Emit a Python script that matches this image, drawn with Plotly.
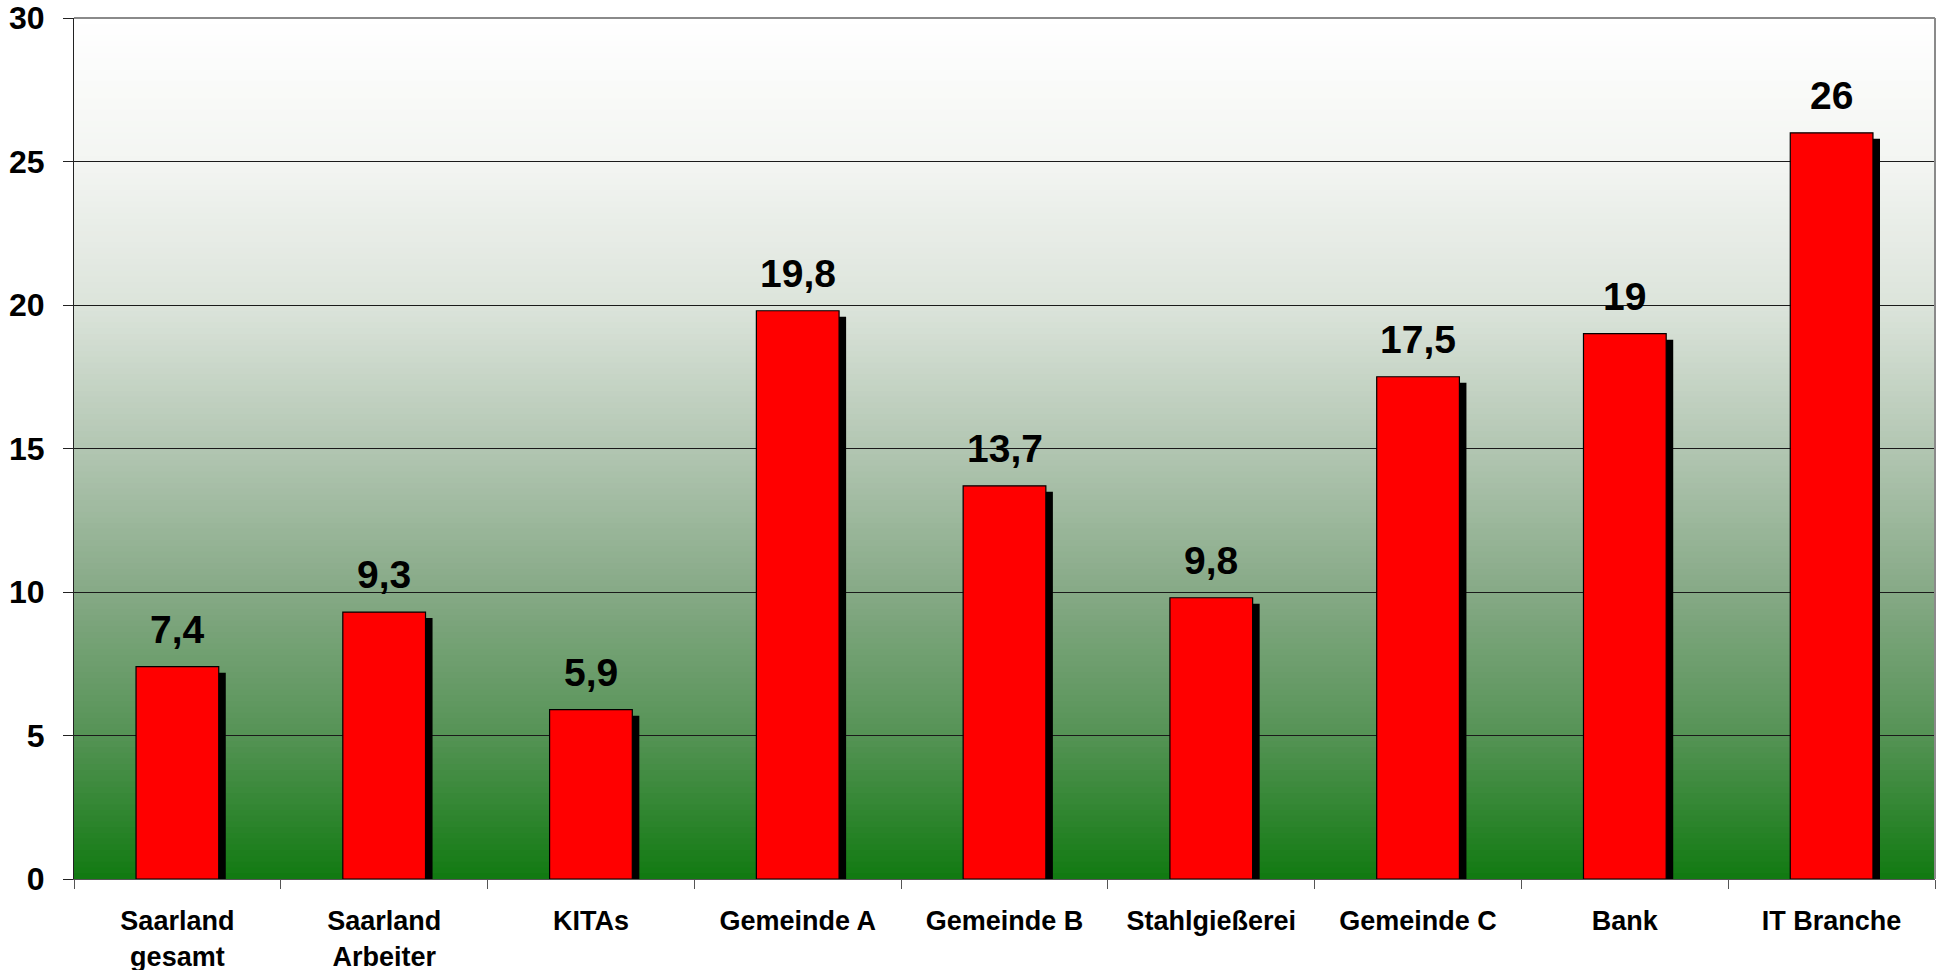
"""
Bar chart with drop shadows on a white-to-green gradient background.
"""

import plotly.graph_objects as go

categories = [
    "Saarland<br>gesamt",
    "Saarland<br>Arbeiter",
    "KITAs",
    "Gemeinde A",
    "Gemeinde B",
    "Stahlgießerei",
    "Gemeinde C",
    "Bank",
    "IT Branche",
]
values = [7.4, 9.3, 5.9, 19.8, 13.7, 9.8, 17.5, 19, 26]

y_ticks = [0, 5, 10, 15, 20, 25, 30]

FONT = "Liberation Sans, Arial, sans-serif"
BAR_RED = "#ff0000"
BAR_WIDTH = 0.4
SHADOW_DX = 0.034   # shadow shift right (category units)
SHADOW_DY = 0.21    # shadow shift down (value units)

# background gradient stops (value on y axis -> colour)
GRAD = [
    (0, (0x11, 0x7a, 0x11)),
    (5, (0x55, 0x93, 0x55)),
    (10, (0x86, 0xa9, 0x86)),
    (15, (0xb2, 0xc6, 0xb2)),
    (20, (0xdc, 0xe4, 0xdb)),
    (25, (0xf3, 0xf5, 0xf2)),
    (30, (0xff, 0xff, 0xff)),
]


def grad_color(v):
    for (a, ca), (b, cb) in zip(GRAD[:-1], GRAD[1:]):
        if a <= v <= b:
            t = (v - a) / (b - a)
            c = [round(ca[i] + (cb[i] - ca[i]) * t) for i in range(3)]
            return f"rgb({c[0]},{c[1]},{c[2]})"
    return "rgb(255,255,255)"


fig = go.Figure()

# shadow
fig.add_trace(go.Bar(
    x=categories,
    y=[v - SHADOW_DY for v in values],
    width=BAR_WIDTH,
    offset=-BAR_WIDTH / 2 + SHADOW_DX,
    marker=dict(color="#000000", line=dict(width=0)),
    hoverinfo="skip",
    showlegend=False,
))

# bars
fig.add_trace(go.Bar(
    x=categories,
    y=values,
    width=BAR_WIDTH,
    offset=-BAR_WIDTH / 2,
    marker=dict(color=BAR_RED, line=dict(color="#000000", width=1.2)),
    showlegend=False,
))

# value labels
for c, v in zip(categories, values):
    fig.add_annotation(
        x=c,
        y=v,
        text=f"{v:g}".replace(".", ","),
        showarrow=False,
        yanchor="bottom",
        yshift=14,
        font=dict(family=FONT, size=39, color="#000000", weight="bold"),
    )

# gradient background
steps = 150
shapes = []
for i in range(steps):
    y0 = 30 * i / steps
    y1 = 30 * (i + 1) / steps
    shapes.append(dict(
        type="rect", xref="paper", yref="y",
        x0=0, x1=1, y0=y0, y1=y1 + 0.05,
        fillcolor=grad_color((y0 + y1) / 2),
        line=dict(width=0),
        layer="below",
    ))

# gray frame top / right
shapes.append(dict(
    type="line", xref="paper", yref="paper",
    x0=0, x1=1, y0=1, y1=1,
    line=dict(color="#8a8a8a", width=2),
    layer="above",
))
shapes.append(dict(
    type="line", xref="paper", yref="paper",
    x0=1, x1=1, y0=0, y1=1,
    line=dict(color="#8a8a8a", width=2),
    layer="above",
))

fig.update_layout(
    barmode="overlay",
    width=1937,
    height=970,
    paper_bgcolor="#ffffff",
    plot_bgcolor="#ffffff",
    margin=dict(l=74, r=2, t=18, b=91),
    shapes=shapes,
    font=dict(family=FONT, color="#000000"),
)

fig.update_xaxes(
    automargin=False,
    showgrid=False,
    showline=True,
    linecolor="#555555",
    linewidth=1,
    ticks="outside",
    tickson="boundaries",
    ticklen=9,
    tickcolor="#555555",
    tickfont=dict(family=FONT, size=27, color="#000000", weight="bold"),
    ticklabelstandoff=18,
)

fig.update_yaxes(
    automargin=False,
    range=[0, 30],
    tickvals=y_ticks,
    showgrid=True,
    gridcolor="#1a1a1a",
    gridwidth=1,
    showline=True,
    linecolor="#222222",
    linewidth=1,
    ticks="outside",
    ticklen=10,
    tickcolor="#222222",
    tickfont=dict(family=FONT, size=32, color="#000000", weight="bold"),
    ticklabelstandoff=12,
    zeroline=False,
)

# drop the default 8px body margin so the figure fills the window
fig.write_html(
    "out.html",
    config={"displayModeBar": False},
    post_script="document.body.style.margin='0';",
)
